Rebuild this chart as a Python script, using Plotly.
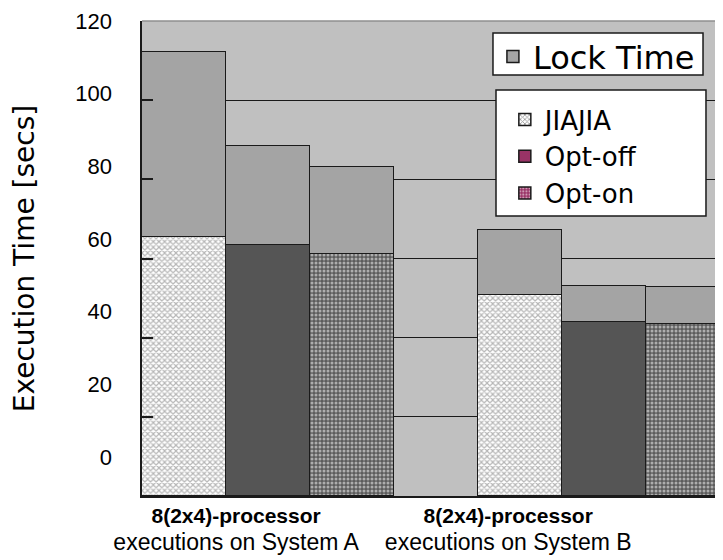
import plotly.graph_objects as go

# ---- data ----
groups = ["System A", "System B"]
series = ["JIAJIA", "Opt-off", "Opt-on"]
jiajia = [65.5, 50.8]
opt_off = [63.4, 44.0]
opt_on = [61.1, 43.5]
lock_jiajia = [46.7, 16.3]
lock_opt_off = [24.9, 9.1]
lock_opt_on = [22.1, 9.3]
y_ticks = [0, 20, 40, 60, 80, 100, 120]
tick_text = ["<b>8(2x4)-processor</b><br><span style='font-size:23px'>executions on System A</span>",
             "<b>8(2x4)-processor</b><br><span style='font-size:23px'>executions on System B</span>"]

# ---- layout constants ----
group_stride = 4          # 3 bars + 1 empty slot per group
label_pos = [0.62, 3.86]  # where the category labels sit on the x scale

LOCK = "#A4A4A4"
PLOT_BG = "#C0C0C0"
LINE = dict(color="#1a1a1a", width=1.5)
DARK = "#1a1a1a"

base_vals = [jiajia, opt_off, opt_on]
lock_vals = [lock_jiajia, lock_opt_off, lock_opt_on]
bar_markers = [
    dict(color="white", line=LINE,
         pattern=dict(shape="x", size=4, solidity=0.5, fgcolor="#6e6e6e", bgcolor="white")),
    dict(color="#555555", line=LINE),
    dict(color="#5c5c5c", line=LINE,
         pattern=dict(shape=".", size=4, solidity=0.45, fgcolor="white", bgcolor="#5c5c5c")),
]
legend_markers = [
    dict(color="white", line=LINE,
         pattern=dict(shape="x", size=4, solidity=0.45, fgcolor="#333333", bgcolor="white")),
    dict(color="#993366", line=LINE),
    dict(color="#993366", line=LINE,
         pattern=dict(shape=".", size=4, solidity=0.4, fgcolor="white", bgcolor="#993366")),
]

fig = go.Figure()

for s, name in enumerate(series):
    xs = [g * group_stride + s for g in range(len(groups))]
    fig.add_trace(go.Bar(x=xs, y=base_vals[s], width=1, name=name,
                         marker=bar_markers[s], showlegend=False))

lock_x, lock_y = [], []
for s in range(len(series)):
    for g in range(len(groups)):
        lock_x.append(g * group_stride + s)
        lock_y.append(lock_vals[s][g])
fig.add_trace(go.Bar(x=lock_x, y=lock_y, width=1, name="Lock Time",
                     marker=dict(color=LOCK, line=LINE), legend="legend"))

# legend-only entries (the colour key of the second legend box)
for s, name in enumerate(series):
    fig.add_trace(go.Bar(x=[None], y=[None], name=name, marker=legend_markers[s],
                         legend="legend2", showlegend=True, yaxis="y2"))

# plot area: x 142..723, y 21..496 in the page (page body has an 8px margin)
fig.update_layout(
    width=715, height=552, autosize=False,
    margin=dict(l=134, r=0, t=13, b=64),
    paper_bgcolor="white", plot_bgcolor=PLOT_BG,
    barmode="stack", bargap=0,
    font=dict(family="Liberation Sans, Arial, sans-serif", color="black"),
    xaxis=dict(range=[-0.5, 6.417], tickvals=label_pos, ticktext=tick_text,
               ticks="", showgrid=False, zeroline=False,
               showline=True, linecolor=DARK, linewidth=1.5,
               tickfont=dict(size=21, family="Liberation Sans, Arial, sans-serif")),
    yaxis=dict(range=[0, 120], tickvals=y_ticks, showticklabels=False,
               ticks="inside", ticklen=11, tickwidth=1.5, tickcolor=DARK,
               showgrid=True, gridcolor=DARK, gridwidth=1.4, zeroline=False,
               showline=True, linecolor=DARK, linewidth=1.5),
    yaxis2=dict(overlaying="y", side="left", range=[-10.73, 120], tickvals=y_ticks,
                ticks="", showgrid=False, zeroline=False, showline=False,
                ticklabelstandoff=29,
                tickfont=dict(size=22, family="Liberation Sans, Arial, sans-serif"),
                title=dict(text="Execution Time [secs]", standoff=34,
                           font=dict(size=28, family="DejaVu Sans, sans-serif"))),
    legend=dict(x=0.604, y=0.983, xanchor="left", yanchor="top",
                bgcolor="rgba(0,0,0,0)", borderwidth=0,
                font=dict(size=32, family="DejaVu Sans, sans-serif"),
                itemclick=False),
    legend2=dict(x=0.6245, y=0.8421, xanchor="left", yanchor="top",
                 bgcolor="rgba(0,0,0,0)", borderwidth=0,
                 font=dict(size=26, family="DejaVu Sans, sans-serif"),
                 tracegroupgap=0, traceorder="normal", itemclick=False),
    shapes=[
        dict(type="line", xref="paper", yref="y domain", x0=0, x1=1, y0=1, y1=1,
             line=dict(color="#8f8f8f", width=1.5), layer="above"),
        dict(type="rect", xref="paper", yref="paper", x0=0.6041, x1=0.9656,
             y0=0.8863, y1=0.9747, fillcolor="white", line=dict(color=DARK, width=1.5),
             layer="above"),
        dict(type="rect", xref="paper", yref="paper", x0=0.6093, x1=0.9707,
             y0=0.5895, y1=0.8547, fillcolor="white", line=dict(color=DARK, width=1.5),
             layer="above"),
    ],
)

fig.write_html("out.html")
